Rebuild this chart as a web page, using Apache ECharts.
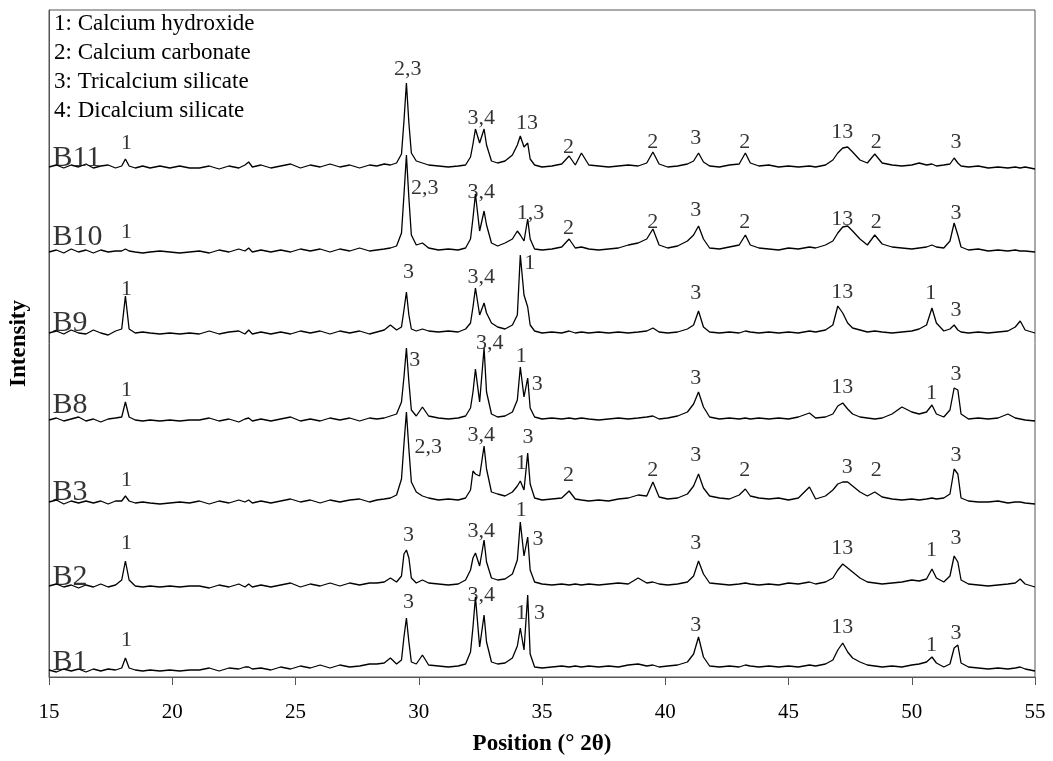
<!DOCTYPE html>
<html>
<head>
<meta charset="utf-8">
<title>XRD patterns</title>
<script src="https://cdn.jsdelivr.net/npm/echarts@6/dist/echarts.min.js"></script>
<style>
  html, body { margin: 0; padding: 0; background: #fff; }
  #chart { width: 1053px; height: 761px; }
</style>
</head>
<body>
<div id="chart"></div>
<script>
// 2θ positions (deg), denser around the peaks
var twoTheta = [
  15.0, 15.3, 15.6, 15.9, 16.2, 16.5, 16.8, 17.1, 17.4, 17.7,
  17.95, 18.1, 18.25, 18.5, 18.8, 19.1, 19.5, 19.9, 20.3, 20.7,
  21.1, 21.5, 21.9, 22.3, 22.7, 22.95, 23.1, 23.25, 23.6, 24.0,
  24.4, 24.8, 25.2, 25.6, 26.0, 26.4, 26.8, 27.2, 27.6, 28.0,
  28.3, 28.6, 28.85, 29.1, 29.3, 29.4, 29.5, 29.6, 29.7, 29.9,
  30.15, 30.4, 30.8, 31.2, 31.6, 31.9, 32.1, 32.2, 32.3, 32.47,
  32.65, 32.75, 32.95, 33.2, 33.5, 33.8, 34.0, 34.12, 34.27, 34.42,
  34.52, 34.7, 35.0, 35.4, 35.8, 36.1, 36.35, 36.6, 36.9, 37.3,
  37.7, 38.1, 38.5, 38.9, 39.25, 39.5, 39.75, 40.1, 40.5, 40.9,
  41.15, 41.35, 41.55, 41.8, 42.2, 42.6, 43.0, 43.25, 43.45, 43.8,
  44.2, 44.6, 45.0, 45.4, 45.85, 46.1, 46.5, 46.8, 47.0, 47.2,
  47.4, 47.6, 47.9, 48.2, 48.5, 48.8, 49.2, 49.6, 50.0, 50.3,
  50.6, 50.82, 51.0, 51.3, 51.55, 51.72, 51.87, 52.0, 52.3, 52.7,
  53.1, 53.5, 53.9, 54.2, 54.4, 54.6, 55.0
];

// intensities (arbitrary units, above each pattern's own baseline)
var b11 = [
  2, 4, 1, 4, 2, 5, 1, 3, 4, 1,
  3, 10, 3, 1, 3, 1, 3, 1, 3, 1,
  1, 3, 0, 3, 1, 4, 7, 2, 4, 1,
  3, 5, 1, 4, 2, 5, 2, 4, 1, 4,
  3, 5, 4, 6, 15, 48, 86, 46, 16, 8,
  6, 4, 3, 2, 3, 4, 12, 25, 40, 26,
  40, 24, 8, 6, 8, 14, 24, 33, 22, 26,
  10, 4, 2, 3, 5, 13, 4, 16, 4, 3,
  2, 3, 4, 3, 6, 17, 5, 2, 3, 5,
  8, 16, 7, 3, 2, 4, 5, 16, 6, 3,
  4, 2, 3, 2, 3, 2, 4, 9, 16, 21,
  22, 17, 9, 6, 15, 6, 4, 3, 4, 6,
  4, 5, 3, 4, 5, 11, 6, 3, 2, 3,
  1, 2, 1, 2, 1, 2, 0
];
var b10 = [
  1, 3, 0, 4, 1, 3, 0, 3, 1, 2,
  2, 4, 2, 1, 0, 1, 2, 1, 0, 1,
  2, 0, 3, 1, 4, 2, 5, 1, 3, 1,
  3, 1, 4, 2, 4, 1, 4, 2, 5, 2,
  3, 4, 5, 7, 20, 58, 98, 55, 18, 8,
  10, 5, 3, 4, 3, 5, 14, 35, 59, 22,
  42, 28, 10, 7, 10, 14, 22, 18, 12, 34,
  14, 4, 3, 4, 6, 14, 5, 6, 4, 3,
  4, 5, 8, 10, 14, 24, 8, 5, 7, 12,
  18, 27, 14, 5, 4, 6, 8, 18, 8, 5,
  4, 3, 5, 4, 6, 5, 8, 12, 20, 26,
  27, 22, 14, 8, 18, 9, 6, 5, 4, 5,
  6, 8, 6, 5, 12, 30, 18, 6, 3, 4,
  2, 3, 2, 3, 2, 2, 1
];
var b9 = [
  2, 4, 1, 5, 2, 1, 5, 2, 0, 4,
  6, 39, 6, 2, 3, 2, 1, 2, 1, 2,
  1, 4, 1, 3, 4, 1, 5, 1, 3, 1,
  3, 1, 4, 2, 4, 1, 4, 2, 4, 1,
  3, 5, 10, 5, 8, 25, 43, 20, 6, 4,
  6, 4, 3, 4, 3, 6, 12, 28, 47, 20,
  32, 22, 12, 8, 6, 10, 20, 80, 40, 28,
  10, 4, 2, 3, 2, 4, 2, 3, 2, 3,
  2, 3, 2, 3, 4, 7, 3, 2, 3, 6,
  10, 24, 8, 3, 2, 3, 2, 4, 3, 2,
  3, 2, 3, 2, 4, 3, 5, 10, 29, 22,
  12, 7, 5, 3, 4, 3, 2, 3, 4, 6,
  10, 27, 12, 4, 6, 10, 5, 3, 2, 3,
  2, 3, 4, 8, 14, 5, 2
];
var b8 = [
  2, 4, 1, 3, 5, 1, 3, 0, 3, 4,
  5, 20, 5, 2, 1, 2, 1, 2, 1, 2,
  2, 4, 1, 3, 0, 3, 4, 1, 3, 1,
  3, 5, 1, 3, 1, 4, 2, 4, 1, 4,
  3, 4, 6, 8, 20, 45, 74, 40, 12, 6,
  15, 6, 4, 3, 4, 6, 14, 30, 53, 20,
  74, 30, 8, 5, 6, 10, 22, 55, 25, 44,
  14, 5, 3, 4, 3, 4, 3, 4, 3, 2,
  3, 4, 3, 4, 5, 6, 3, 4, 6, 10,
  18, 30, 15, 5, 3, 4, 3, 4, 3, 4,
  3, 4, 3, 5, 9, 4, 5, 8, 16, 19,
  13, 8, 5, 4, 3, 4, 8, 15, 10, 8,
  10, 17, 8, 5, 12, 34, 32, 8, 3, 4,
  3, 4, 8, 4, 3, 2, 1
];
var b3 = [
  2, 4, 0, 3, 1, 3, 1, 3, 0, 3,
  3, 8, 3, 1, 2, 1, 0, 1, 2, 1,
  3, 0, 3, 1, 4, 2, 4, 1, 3, 1,
  3, 5, 2, 4, 1, 4, 2, 4, 5, 2,
  4, 5, 6, 9, 25, 60, 92, 55, 22, 12,
  8, 6, 4, 5, 4, 6, 14, 33, 30, 28,
  58, 35, 12, 10, 8, 12, 18, 23, 14, 51,
  20, 6, 4, 5, 6, 13, 5, 4, 3, 4,
  3, 5, 6, 9, 8, 22, 7, 5, 6, 10,
  18, 30, 16, 8, 6, 5, 9, 15, 8, 6,
  5, 6, 4, 6, 17, 5, 8, 14, 20, 22,
  22, 18, 12, 8, 12, 7, 5, 4, 5, 4,
  5, 6, 5, 6, 10, 35, 30, 6, 3, 2,
  2, 3, 1, 2, 2, 1, 0
];
var b2 = [
  2, 4, 1, 3, 0, 3, 1, 4, 1, 3,
  8, 27, 8, 2, 1, 2, 1, 2, 1, 2,
  2, 0, 3, 1, 4, 1, 4, 1, 3, 1,
  3, 5, 1, 4, 2, 5, 2, 5, 3, 5,
  5, 6, 10, 6, 12, 34, 38, 30, 10, 5,
  8, 5, 4, 3, 4, 8, 18, 30, 35, 22,
  48, 26, 10, 8, 9, 14, 28, 66, 32, 51,
  18, 6, 4, 3, 4, 3, 4, 3, 4, 3,
  4, 5, 4, 10, 5, 6, 4, 3, 4, 6,
  12, 27, 14, 5, 4, 3, 4, 5, 4, 3,
  4, 3, 5, 4, 6, 4, 6, 10, 18, 24,
  20, 16, 10, 6, 5, 4, 5, 6, 8, 7,
  9, 19, 10, 6, 12, 32, 26, 8, 4, 3,
  2, 3, 4, 5, 9, 4, 1
];
var b1 = [
  2, 0, 3, 1, 3, 0, 3, 1, 3, 2,
  4, 14, 4, 2, 1, 2, 1, 2, 1, 2,
  2, 4, 1, 4, 3, 5, 5, 3, 4, 2,
  5, 3, 6, 4, 7, 4, 7, 5, 6, 8,
  8, 9, 14, 8, 12, 35, 54, 30, 10, 8,
  17, 7, 6, 5, 6, 8, 20, 45, 75, 25,
  57, 30, 10, 8, 9, 14, 26, 44, 22, 77,
  18, 5, 4, 5, 6, 5, 6, 5, 6, 5,
  6, 5, 7, 8, 6, 7, 5, 6, 7, 10,
  18, 35, 15, 6, 5, 6, 5, 7, 6, 5,
  6, 5, 6, 5, 7, 6, 8, 12, 22, 29,
  20, 14, 10, 7, 6, 5, 6, 5, 7, 8,
  10, 15, 9, 5, 8, 24, 27, 9, 5, 4,
  3, 4, 3, 4, 5, 3, 1
];

var sampleNames = ['B1', 'B2', 'B3', 'B8', 'B9', 'B10', 'B11'];
var patterns = [b1, b2, b3, b8, b9, b10, b11];
// vertical shift of each pattern so they stack
var stackOffset = [5, 89, 173, 255, 342, 424, 508];
var nameY = [15, 100, 185, 272, 354, 440, 519];

// peak annotations: [2θ, y, phase number]
var peakLabels = [
  // B11
  [18.14, 534, '1'], [29.55, 608, '2,3'], [32.54, 559, '3,4'], [34.39, 554, '13'],
  [36.08, 530, '2'], [39.49, 535, '2'], [41.24, 539, '3'], [43.23, 535, '2'],
  [47.18, 545, '13'], [48.56, 535, '2'], [51.8, 535, '3'],
  // B10
  [18.14, 445, '1'], [30.24, 489, '2,3'], [32.54, 485, '3,4'], [34.53, 464, '1,3'],
  [36.08, 449, '2'], [39.49, 455, '2'], [41.24, 467, '3'], [43.23, 455, '2'],
  [47.18, 458, '13'], [48.56, 455, '2'], [51.8, 464, '3'],
  // B9
  [18.14, 388, '1'], [29.58, 405, '3'], [32.54, 400, '3,4'], [34.5, 414, '1'],
  [41.24, 384, '3'], [47.18, 385, '13'], [50.77, 384, '1'], [51.8, 367, '3'],
  // B8
  [18.14, 287, '1'], [29.84, 317, '3'], [32.88, 334, '3,4'], [34.16, 321, '1'],
  [34.81, 293, '3'], [41.24, 299, '3'], [47.18, 290, '13'], [50.8, 284, '1'],
  [51.8, 303, '3'],
  // B3
  [18.14, 197, '1'], [30.39, 230, '2,3'], [32.54, 242, '3,4'], [34.16, 214, '1'],
  [34.43, 240, '3'], [36.08, 202, '2'], [39.49, 207, '2'], [41.24, 222, '3'],
  [43.23, 207, '2'], [47.38, 210, '3'], [48.56, 207, '2'], [51.8, 222, '3'],
  // B2
  [18.14, 134, '1'], [29.58, 142, '3'], [32.54, 146, '3,4'], [34.16, 167, '1'],
  [34.84, 138, '3'], [41.24, 134, '3'], [47.18, 129, '13'], [50.8, 127, '1'],
  [51.8, 139, '3'],
  // B1
  [18.14, 37, '1'], [29.58, 75, '3'], [32.54, 82, '3,4'], [34.16, 64, '1'],
  [34.9, 64, '3'], [41.24, 52, '3'], [47.18, 50, '13'], [50.8, 32, '1'],
  [51.8, 44, '3']
];

var phaseKey = [
  '1: Calcium hydroxide',
  '2: Calcium carbonate',
  '3: Tricalcium silicate',
  '4: Dicalcium silicate'
];

var serif = 'Liberation Serif';
var chart = echarts.init(document.getElementById('chart'));

var series = patterns.map(function (p, k) {
  return {
    name: sampleNames[k],
    type: 'line',
    data: twoTheta.map(function (x, i) { return [x, p[i] + stackOffset[k]]; }),
    symbol: 'none',
    silent: true,
    lineStyle: { color: '#000', width: 1.3 }
  };
});

// sample names at the left of each pattern
series.push({
  type: 'scatter',
  silent: true,
  symbolSize: 0,
  data: sampleNames.map(function (n, k) { return [15.14, nameY[k], n]; }),
  label: {
    show: true,
    position: 'right',
    distance: 0,
    formatter: function (p) { return p.value[2]; },
    fontFamily: serif,
    fontSize: 30,
    color: '#000'
  }
});

// phase numbers above the peaks
series.push({
  type: 'scatter',
  silent: true,
  symbolSize: 0,
  data: peakLabels,
  label: {
    show: true,
    position: 'inside',
    formatter: function (p) { return p.value[2]; },
    fontFamily: serif,
    fontSize: 22,
    color: '#000'
  }
});

var option = {
  backgroundColor: '#fff',
  animation: false,
  title: {
    text: phaseKey.join('\n'),
    left: 54,
    top: 9,
    padding: 0,
    textStyle: {
      fontFamily: serif,
      fontSize: 23,
      fontWeight: 'normal',
      lineHeight: 29,
      color: '#000'
    }
  },
  grid: {
    left: 46,
    right: 18,
    top: 10,
    bottom: 84,
    show: true,
    borderColor: '#555',
    borderWidth: 1
  },
  xAxis: {
    type: 'value',
    min: 15,
    max: 55,
    interval: 5,
    name: 'Position (° 2θ)',
    nameLocation: 'middle',
    nameGap: 56,
    nameTextStyle: {
      fontFamily: serif,
      fontSize: 23,
      fontWeight: 'bold',
      color: '#000'
    },
    axisLine: { lineStyle: { color: '#555', width: 1 } },
    axisTick: { show: true, length: 8, lineStyle: { color: '#555' } },
    axisLabel: {
      margin: 25,
      fontFamily: serif,
      fontSize: 21,
      color: '#000'
    },
    splitLine: { show: false }
  },
  yAxis: {
    type: 'value',
    min: 0,
    max: 667,
    name: 'Intensity',
    nameLocation: 'middle',
    nameGap: 18,
    nameTextStyle: {
      fontFamily: serif,
      fontSize: 23,
      fontWeight: 'bold',
      color: '#000'
    },
    axisLine: { show: true, lineStyle: { color: '#555', width: 1 } },
    axisTick: { show: false },
    axisLabel: { show: false },
    splitLine: { show: false }
  },
  series: series
};

chart.setOption(option);
</script>
</body>
</html>
